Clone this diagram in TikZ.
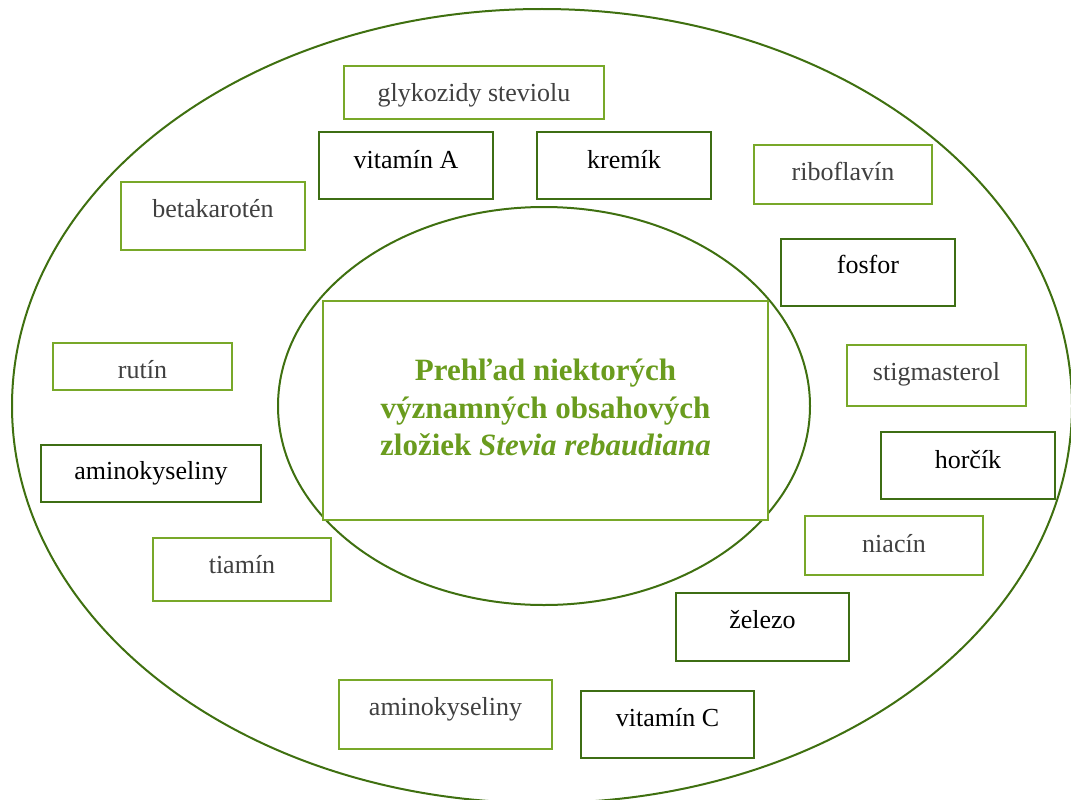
\documentclass[tikz,border=0pt]{standalone}
\usepackage{fontspec}
\setmainfont{Liberation Serif}
\definecolor{ringgreen}{HTML}{3F7010}
\definecolor{lightgreen}{HTML}{78A829}
\definecolor{darkgreen}{HTML}{3E6E14}
\definecolor{titlegreen}{HTML}{6A9C1E}
\definecolor{softgray}{HTML}{404040}
\tikzset{
  ring/.style={draw=ringgreen, line width=2pt},
  box/.style={rectangle, anchor=north west, inner sep=0pt, fill=white, line width=2pt},
  lbox/.style={box, draw=lightgreen},
  dbox/.style={box, draw=darkgreen},
  ltxt/.style={anchor=base, yshift=-36pt, inner sep=0pt, font=\fontsize{26}{30}\selectfont, text=softgray},
  dtxt/.style={anchor=base, yshift=-37pt, inner sep=0pt, font=\fontsize{26}{30}\selectfont, text=black},
}
\begin{document}
\begin{tikzpicture}[x=1pt, y=-1pt]
\useasboundingbox (0,0) rectangle (1071,800);
\begin{scope}
\clip (0,0) rectangle (1071,800);
% outer and inner rings
\draw[ring] (542,406) ellipse [x radius=530, y radius=397];
\draw[ring] (544,406) ellipse [x radius=266, y radius=199];
\end{scope}

% central title box
\node[lbox, minimum width=445, minimum height=219] (center) at (322,300) {};
\node[font=\bfseries\fontsize{31}{37.5}\selectfont, text=titlegreen, align=center, yshift=3pt] (title) at (center.center)
  {Prehľad niektorých\\významných obsahových\\zložiek \textit{Stevia rebaudiana}};

% surrounding components
\node[lbox, minimum width=260, minimum height=53, label={[ltxt]north:glykozidy steviolu}] (glyk) at (343,65) {};
\node[dbox, minimum width=174, minimum height=67, label={[dtxt]north:vitamín A}] (vitA) at (318,131) {};
\node[dbox, minimum width=174, minimum height=67, label={[dtxt]north:kremík}] (krem) at (536,131) {};
\node[lbox, minimum width=178, minimum height=59, label={[ltxt]north:riboflavín}] (ribo) at (753,144) {};
\node[lbox, minimum width=184, minimum height=68, label={[ltxt]north:betakarotén}] (beta) at (120,181) {};
\node[dbox, minimum width=174, minimum height=67, label={[dtxt, yshift=2pt]north:fosfor}] (fosf) at (780,238) {};
\node[lbox, minimum width=179, minimum height=61, label={[ltxt]north:stigmasterol}] (stig) at (846,344) {};
\node[lbox, minimum width=179, minimum height=47, label={[ltxt]north:rutín}] (rutin) at (52,342) {};
\node[dbox, minimum width=220, minimum height=57, label={[dtxt, yshift=2pt]north:aminokyseliny}] (amino1) at (40,444) {};
\node[dbox, minimum width=174, minimum height=67, label={[dtxt]north:horčík}] (horc) at (880,431) {};
\node[lbox, minimum width=178, minimum height=63, label={[ltxt]north:tiamín}] (tiam) at (152,537) {};
\node[lbox, minimum width=178, minimum height=59, label={[ltxt, yshift=-1pt]north:niacín}] (niac) at (804,515) {};
\node[dbox, minimum width=173, minimum height=68, label={[dtxt, yshift=1pt]north:železo}] (zel) at (675,592) {};
\node[lbox, minimum width=213, minimum height=69, label={[ltxt]north:aminokyseliny}] (amino2) at (338,679) {};
\node[dbox, minimum width=173, minimum height=67, label={[dtxt, yshift=1pt]north:vitamín C}] (vitC) at (580,690) {};
\end{tikzpicture}
\end{document}
